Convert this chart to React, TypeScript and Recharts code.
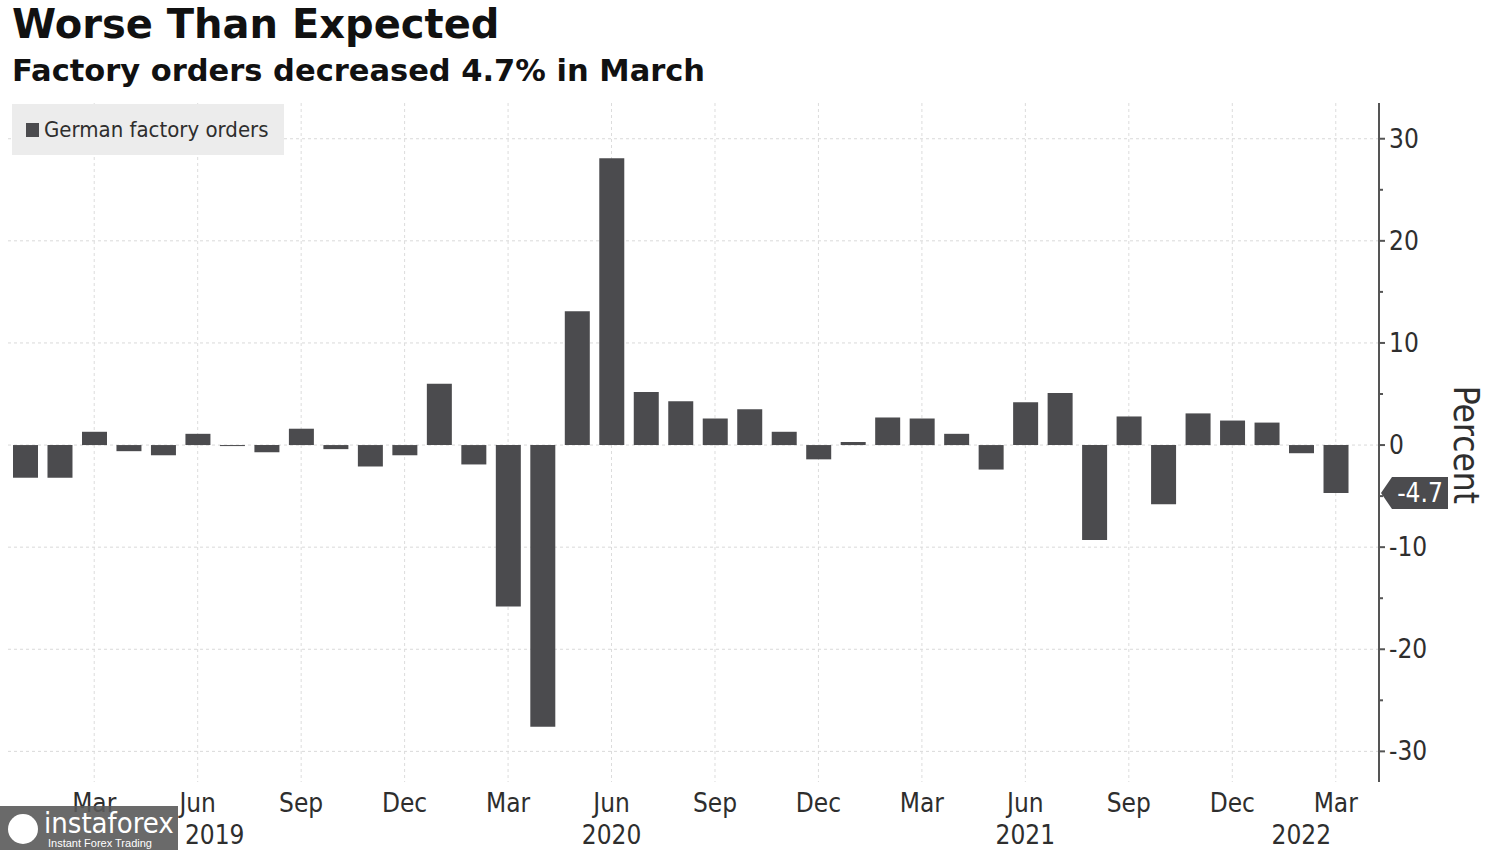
import { BarChart, Bar, XAxis, YAxis, CartesianGrid, ReferenceLine } from 'recharts'

const periods = [
  '2019-01', '2019-02', '2019-03', '2019-04', '2019-05', '2019-06', '2019-07', '2019-08', '2019-09', '2019-10', '2019-11', '2019-12',
  '2020-01', '2020-02', '2020-03', '2020-04', '2020-05', '2020-06', '2020-07', '2020-08', '2020-09', '2020-10', '2020-11', '2020-12',
  '2021-01', '2021-02', '2021-03', '2021-04', '2021-05', '2021-06', '2021-07', '2021-08', '2021-09', '2021-10', '2021-11', '2021-12',
  '2022-01', '2022-02', '2022-03',
]

// German factory orders, % m/m
const orders = [
  -3.2, -3.2, 1.3, -0.6, -1.0, 1.1, -0.1, -0.7, 1.6, -0.4, -2.1, -1.0,
  6.0, -1.9, -15.8, -27.6, 13.1, 28.1, 5.2, 4.3, 2.6, 3.5, 1.3, -1.4,
  0.3, 2.7, 2.6, 1.1, -2.4, 4.2, 5.1, -9.3, 2.8, -5.8, 3.1, 2.4,
  2.2, -0.8, -4.7,
]

const monthNames = ['Jan', 'Feb', 'Mar', 'Apr', 'May', 'Jun', 'Jul', 'Aug', 'Sep', 'Oct', 'Nov', 'Dec']
const labelledMonths = ['03', '06', '09', '12']
const yearLabels: Record<string, string> = {
  '2019-06': '2019',
  '2020-06': '2020',
  '2021-06': '2021',
  '2022-02': '2022',
}
const yTicks = [-30, -25, -20, -15, -10, -5, 0, 5, 10, 15, 20, 25, 30]
const majorTicks = [-30, -20, -10, 0, 10, 20, 30]

const chartData = periods.map((p, i) => ({ period: p, orders: orders[i] }))
const gridPeriods = periods.filter((p) => labelledMonths.includes(p.slice(5)))

const FONT = '"DejaVu Sans Condensed", "DejaVu Sans", sans-serif'
const BAR = '#4b4b4e'
const TEXT = '#2e2e2e'

function MonthTick(props: any) {
  const { x, y, payload } = props
  const p: string = payload.value
  const mm = p.slice(5)
  const year = yearLabels[p]
  return (
    <g>
      {labelledMonths.includes(mm) && (
        <text x={x} y={y + 30} textAnchor="middle" fontSize={26} fontFamily={FONT} fill={TEXT}>
          {monthNames[parseInt(mm, 10) - 1]}
        </text>
      )}
      {year && (
        <text x={x + (p === '2019-06' ? 17 : 0)} y={y + 62} textAnchor="middle" fontSize={26} fontFamily={FONT} fill={TEXT}>
          {year}
        </text>
      )}
    </g>
  )
}

function PercentTick(props: any) {
  const { x, y, payload } = props
  const v: number = payload.value
  const major = v % 10 === 0
  return (
    <g>
      <line x1={x} x2={x + (major ? 6 : 4)} y1={y} y2={y} stroke="#555" strokeWidth={2} />
      {major && (
        <text x={x + 10} y={y + 9} textAnchor="start" fontSize={26} fontFamily={FONT} fill={TEXT}>
          {v}
        </text>
      )}
    </g>
  )
}

function ValueTag(props: any) {
  const { viewBox } = props
  if (!viewBox) return null
  const x0 = viewBox.x + viewBox.width + 2
  const y = viewBox.y
  const pts = `${x0},${y} ${x0 + 11},${y - 16} ${x0 + 67},${y - 16} ${x0 + 67},${y + 16} ${x0 + 11},${y + 16}`
  return (
    <g>
      <polygon points={pts} fill={BAR} />
      <text x={x0 + 39} y={y + 9} textAnchor="middle" fontSize={26} fontFamily={FONT} fill="#fff">
        {orders[orders.length - 1]}
      </text>
    </g>
  )
}

function PercentLabel(props: any) {
  const { viewBox } = props
  if (!viewBox) return null
  const cx = viewBox.x + 87
  const cy = 445
  return (
    <text
      x={cx}
      y={cy}
      transform={`rotate(90, ${cx}, ${cy})`}
      textAnchor="middle"
      dominantBaseline="central"
      fontSize={35}
      fontFamily={FONT}
      fill={TEXT}
    >
      Percent
    </text>
  )
}

export default function App() {
  return (
    <div style={{ position: 'absolute', left: 0, top: 0, width: 1500, height: 850, background: '#fff', overflow: 'hidden' }}>
      <div style={{ position: 'absolute', left: 12, top: 1, fontFamily: '"DejaVu Sans", sans-serif', fontWeight: 700, fontSize: 40, color: '#111', whiteSpace: 'nowrap' }}>
        Worse Than Expected
      </div>
      <div style={{ position: 'absolute', left: 12, top: 53, fontFamily: '"DejaVu Sans", sans-serif', fontWeight: 700, fontSize: 30.5, color: '#111', whiteSpace: 'nowrap' }}>
        Factory orders decreased 4.7% in March
      </div>

      <div style={{ position: 'absolute', left: 0, top: 0 }}>
        <BarChart width={1500} height={850} data={chartData} margin={{ top: 103, right: 0, bottom: 0, left: 8 }}>
          <CartesianGrid vertical={false} horizontalValues={majorTicks} stroke="#d9d9d9" strokeDasharray="3 3" />
          <CartesianGrid horizontal={false} verticalValues={gridPeriods} stroke="#dcdcdc" strokeDasharray="3 3" />
          <XAxis
            dataKey="period"
            interval={0}
            height={68}
            padding={{ left: 0, right: 26 }}
            axisLine={false}
            tickLine={false}
            tickSize={0}
            tickMargin={0}
            tick={<MonthTick />}
          />
          <YAxis
            orientation="right"
            width={121}
            domain={[-33, 33.5]}
            ticks={yTicks}
            allowDataOverflow
            axisLine={{ stroke: '#555', strokeWidth: 2 }}
            tickLine={false}
            tickSize={0}
            tickMargin={0}
            tick={<PercentTick />}
            label={<PercentLabel />}
          />
          <Bar dataKey="orders" fill={BAR} barSize={25} isAnimationActive={false} />
          <ReferenceLine y={orders[orders.length - 1]} stroke="none" label={<ValueTag />} />
        </BarChart>
      </div>

      <div style={{ position: 'absolute', left: 12, top: 104, width: 272, height: 51, background: '#ececec', display: 'flex', alignItems: 'center', whiteSpace: 'nowrap' }}>
        <div style={{ width: 13, height: 14, background: BAR, marginLeft: 14, marginRight: 5, flexShrink: 0 }} />
        <span style={{ fontFamily: FONT, fontSize: 22, color: TEXT }}>German factory orders</span>
      </div>

      <div style={{ position: 'absolute', left: 0, top: 806, width: 178, height: 44, background: 'rgba(90,90,90,0.9)', color: '#fff', fontFamily: '"Liberation Sans", sans-serif' }}>
        <div style={{ position: 'absolute', left: 8, top: 8, width: 30, height: 30, borderRadius: 15, background: '#fff' }} />
        <div style={{ position: 'absolute', left: 44, top: 1, fontSize: 29, lineHeight: '32px', fontFamily: FONT }}>instaforex</div>
        <div style={{ position: 'absolute', left: 48, top: 31, fontSize: 11, lineHeight: '12px' }}>Instant Forex Trading</div>
      </div>
    </div>
  )
}
